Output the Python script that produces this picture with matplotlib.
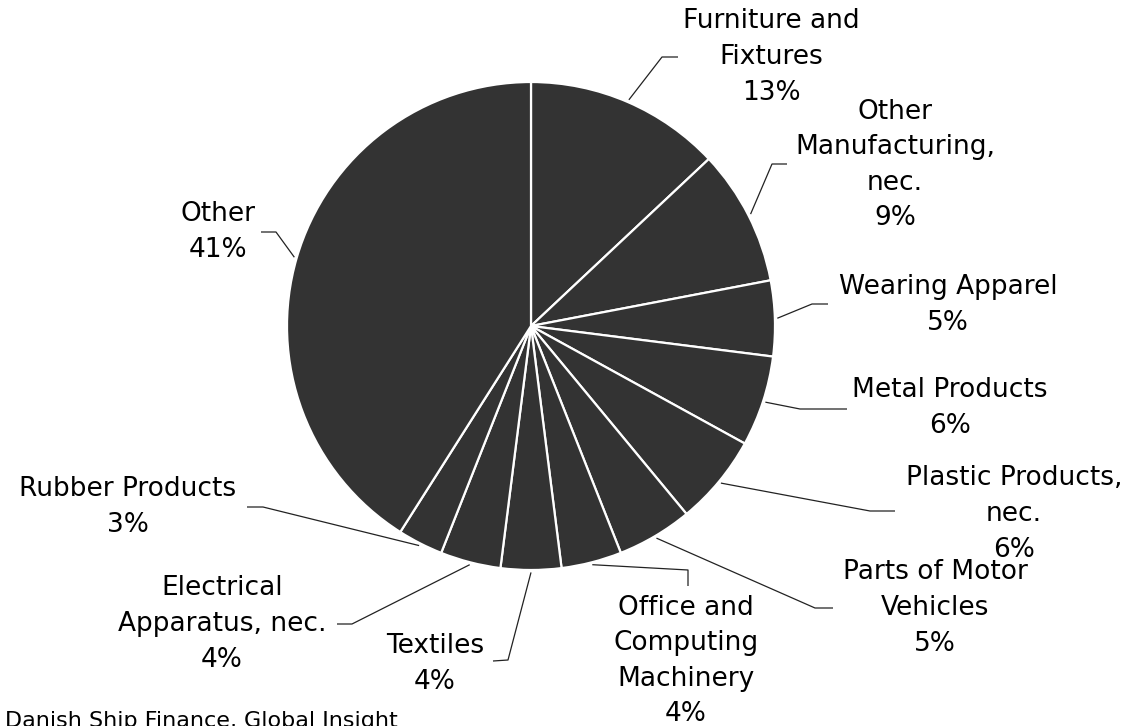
import numpy as np
from matplotlib import pyplot as plt

# slice data, clockwise from 12 o'clock
categories = ["Furniture and\nFixtures", "Other\nManufacturing,\nnec.", "Wearing Apparel",
              "Metal Products", "Plastic Products,\nnec.", "Parts of Motor\nVehicles",
              "Office and\nComputing\nMachinery", "Textiles", "Electrical\nApparatus, nec.",
              "Rubber Products", "Other"]
shares = [13, 9, 5, 6, 6, 5, 4, 4, 4, 3, 41]

# label layout in image pixels (y measured from the top): text centre, elbow, line end
label_xy = [(771, 57), (895, 165), (948, 305), (950, 408), (1014, 514), (935, 608),
            (686, 661), (435, 664), (222, 624), (128, 507), (218, 232)]
elbow_xy = [(662, 57), (772, 164), (812, 304), (800, 409), (870, 511), (815, 608),
            (688, 570), (508, 660), (352, 624), (263, 507), (276, 232)]
end_xy = [(678, 57), (787, 164), (828, 304), (847, 409), (895, 511), (833, 608),
          (688, 586), (493, 661), (337, 624), (247, 507), (261, 232)]

W, H = 1128, 726
CENTER = (531, 326)
RADIUS = 244
DARK = '#333333'


def img(p):
    return p[0], H - p[1]


fig = plt.figure(figsize=(W / 100, H / 100), dpi=100, facecolor='w')
ax = fig.add_axes([0, 0, 1, 1])
wedges, _ = ax.pie(shares, colors=[DARK] * len(shares), startangle=90, counterclock=False,
                   center=img(CENTER), radius=RADIUS,
                   wedgeprops=dict(edgecolor='white', linewidth=1.6))
ax.set_xlim(0, W)
ax.set_ylim(0, H)
ax.set_aspect('equal')
ax.axis('off')

for w, cat, val, lab, elb, end in zip(wedges, categories, shares, label_xy, elbow_xy, end_xy):
    mid = np.deg2rad((w.theta1 + w.theta2) / 2)
    cx, cy = img(CENTER)
    sx = cx + RADIUS * 1.01 * np.cos(mid)
    sy = cy + RADIUS * 1.01 * np.sin(mid)
    ex, ey = img(elb)
    tx, ty = img(end)
    ax.plot([sx, ex, tx], [sy, ey, ty], color='#222222', linewidth=0.9, solid_capstyle='butt')
    lx, ly = img(lab)
    ax.text(lx, ly, "%s\n%d%%" % (cat, val), ha='center', va='center', fontsize=19,
            linespacing=1.48, color='black', family='DejaVu Sans')

# source line sits partly below the bottom edge, as in the original
ax.text(5, -1, "Danish Ship Finance, Global Insight", ha='left', va='baseline', fontsize=16,
        color='black', family='DejaVu Sans')

fig.savefig('out.png', dpi=100, facecolor='w')
